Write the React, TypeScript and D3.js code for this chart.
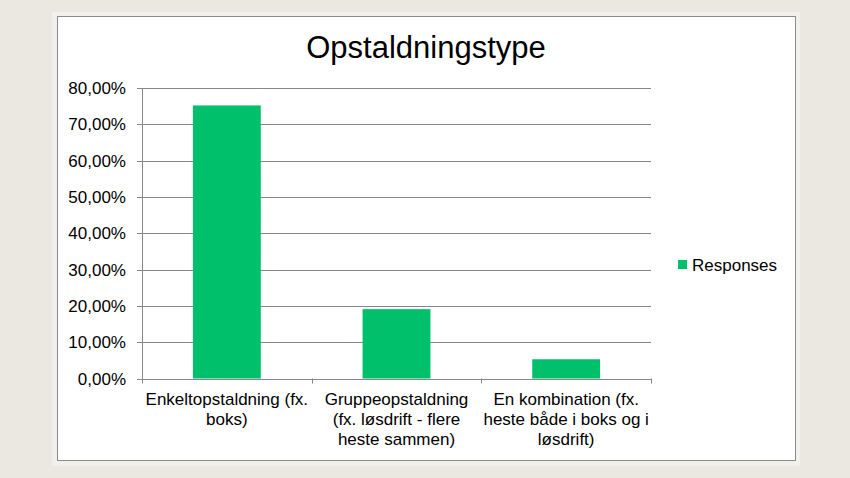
import { scaleBand, scaleLinear } from "d3";

const categories = [
  ["Enkeltopstaldning (fx.", "boks)"],
  ["Gruppeopstaldning", "(fx. løsdrift - flere", "heste sammen)"],
  ["En kombination (fx.", "heste både i boks og i", "løsdrift)"]
];
const responses = [0.752, 0.191, 0.053];
const yTicks = [0, 0.1, 0.2, 0.3, 0.4, 0.5, 0.6, 0.7, 0.8];
const seriesName = "Responses";
const title = "Opstaldningstype";

const font = "Arial, 'Liberation Sans', sans-serif";

function formatPct(v: number) {
  return (v * 100).toFixed(2).replace(".", ",") + "%";
}

export default function App() {
  const width = 850;
  const height = 478;
  const plot = { left: 142, right: 651, top: 88, bottom: 378.5 };
  const keys = categories.map((_, i) => String(i));
  const x = scaleBand<string>()
    .domain(keys)
    .range([plot.left, plot.right])
    .paddingInner(0.6)
    .paddingOuter(0.3);
  const band = (plot.right - plot.left) / categories.length;
  const y = scaleLinear().domain([0, 0.8]).range([plot.bottom, plot.top]);
  const green = "#00c06b";
  const grid = "#878787";

  return (
    <svg
      width={width}
      height={height}
      style={{ position: "absolute", left: 0, top: 0, display: "block" }}
      fontFamily={font}
    >
      <rect width={width} height={height} fill="#ebe8e1" />
      <rect x={52} y={12} width={748} height={454} fill="#f2f0ec" />
      <rect x={57.5} y={16.5} width={738} height={444} fill="#ffffff" stroke="#8a8a8a" strokeWidth={1} />

      <text x={426} y={58} textAnchor="middle" fontSize={31} fill="#000">
        {title}
      </text>

      {yTicks.map((t) => (
        <g key={t}>
          <line x1={plot.left - 5} x2={plot.right} y1={Math.round(y(t)) + 0.5} y2={Math.round(y(t)) + 0.5} stroke={grid} />
          <text x={plot.left - 16} y={y(t) + 6} textAnchor="end" fontSize={17} fill="#000">
            {formatPct(t)}
          </text>
        </g>
      ))}
      <line x1={plot.left + 0.5} x2={plot.left + 0.5} y1={plot.top} y2={plot.bottom + 5} stroke={grid} />

      {responses.map((v, i) => (
        <rect
          key={i}
          x={x(String(i))}
          y={y(v)}
          width={x.bandwidth()}
          height={plot.bottom - y(v)}
          fill={green}
        />
      ))}

      {categories.map((_, i) => (
        <line
          key={"t" + i}
          x1={Math.round(plot.left + band * (i + 1)) + 0.5}
          x2={Math.round(plot.left + band * (i + 1)) + 0.5}
          y1={plot.bottom}
          y2={plot.bottom + 5}
          stroke={grid}
        />
      ))}

      {categories.map((lines, i) => (
        <text key={"l" + i} textAnchor="middle" fontSize={17} fill="#000">
          {lines.map((ln, j) => (
            <tspan key={j} x={plot.left + band * (i + 0.5)} y={405 + j * 20}>
              {ln}
            </tspan>
          ))}
        </text>
      ))}

      <rect x={678} y={260} width={9} height={9} fill={green} />
      <text x={692} y={271} fontSize={17} fill="#000">
        {seriesName}
      </text>
    </svg>
  );
}
